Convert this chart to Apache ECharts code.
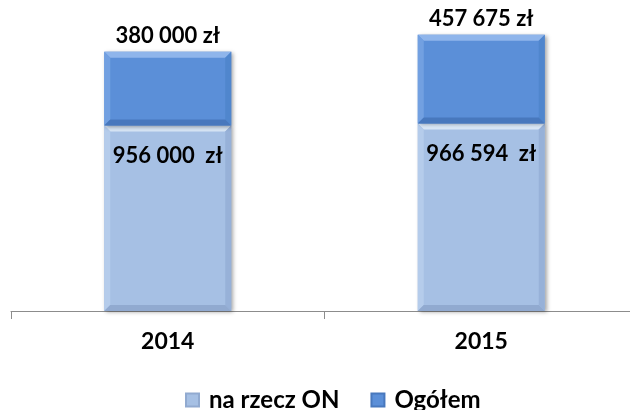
<!DOCTYPE html>
<html>
<head>
<meta charset="utf-8">
<script src="https://cdn.jsdelivr.net/npm/echarts@6/dist/echarts.min.js"></script>
<style>
  html, body { margin: 0; padding: 0; background: #fff; overflow: hidden; }
  #chart { width: 638px; height: 410px; }
</style>
</head>
<body>
<div id="chart"></div>
<script>
// Years on the category axis
const years = ['2014', '2015'];
// Amounts in złoty
const naRzeczON = [956000, 966594];
const ogolem = [380000, 457675];
const seriesNames = ['na rzecz ON', 'Ogółem'];

const FONT = 'Lato, "Open Sans", sans-serif';
const BAR_RATIO = 0.405;
const BEVEL = 6;

// Bevelled bar palettes: face, top edge, left edge, right edge, bottom edge
const paletteON = { face: '#a6c0e4', top: '#d8e6f6', left: '#b5cceb', right: '#97b1d8', bottom: '#91aad0' };
const paletteOg = { face: '#5b8fd8', top: '#8fb5eb', left: '#72a0e1', right: '#5086cd', bottom: '#4878bd' };

function fmt(v) {
  return String(Math.round(v)).replace(/\B(?=(\d{3})+(?!\d))/g, ' ');
}

// Build stacked segments: [categoryIndex, start, end, value]
function segments(values, base) {
  return values.map((v, i) => {
    const s = base ? base[i] : 0;
    return [i, s, s + v, v];
  });
}
const segON = segments(naRzeczON, null);
const segOg = segments(ogolem, naRzeczON);

function bevelBar(pal, labelMode, suffix) {
  return function (params, api) {
    const cat = api.value(0);
    const pLo = api.coord([cat, api.value(1)]);
    const pHi = api.coord([cat, api.value(2)]);
    const w = api.size([1, 0])[0] * BAR_RATIO;
    const x0 = pLo[0] - w / 2, x1 = pLo[0] + w / 2;
    const y0 = pHi[1], y1 = pLo[1];
    const b = BEVEL;
    const poly = (pts, fill) => ({ type: 'polygon', shape: { points: pts }, style: { fill: fill }, silent: true });
    const children = [
      {
        type: 'rect',
        shape: { x: x0, y: y0, width: w, height: y1 - y0 },
        style: { fill: pal.face, shadowColor: 'rgba(0,0,0,0.35)', shadowBlur: 4, shadowOffsetX: 2, shadowOffsetY: 1 }
      },
      poly([[x0, y0], [x1, y0], [x1 - b, y0 + b], [x0 + b, y0 + b]], pal.top),
      poly([[x0, y0], [x0 + b, y0 + b], [x0 + b, y1 - b], [x0, y1]], pal.left),
      poly([[x1, y0], [x1, y1], [x1 - b, y1 - b], [x1 - b, y0 + b]], pal.right),
      poly([[x0, y1], [x1, y1], [x1 - b, y1 - b], [x0 + b, y1 - b]], pal.bottom)
    ];
    const txt = fmt(api.value(3)) + suffix;
    const ty = labelMode === 'above' ? y0 - 5 : y0 + 30;
    children.push({
      type: 'text',
      style: {
        x: pLo[0], y: ty, text: txt,
        align: 'center', verticalAlign: labelMode === 'above' ? 'bottom' : 'middle',
        fontFamily: FONT, fontWeight: 'bold', fontSize: 22, fill: '#000'
      },
      silent: true
    });
    return { type: 'group', children: children };
  };
}

const chart = echarts.init(document.getElementById('chart'), null, { renderer: 'canvas' });

chart.setOption({
  animation: false,
  backgroundColor: '#ffffff',
  grid: { left: 11, top: 20, right: 0, bottom: 99, containLabel: false },
  legend: {
    top: 388,
    left: 185,
    padding: 0,
    itemWidth: 13,
    itemHeight: 13,
    itemGap: 31,
    icon: 'rect',
    textStyle: { fontFamily: FONT, fontWeight: 'bold', fontSize: 24, color: '#000', padding: [0, 0, 0, 5] },
    data: seriesNames
  },
  xAxis: {
    type: 'category',
    data: years,
    axisLine: { lineStyle: { color: '#8c8c8c', width: 1 } },
    axisTick: { show: true, length: 8, lineStyle: { color: '#8c8c8c' } },
    axisLabel: { fontFamily: FONT, fontWeight: 'bold', fontSize: 23, color: '#000', margin: 19 }
  },
  yAxis: {
    type: 'value',
    min: 0,
    max: 1500000,
    show: false,
    splitLine: { show: false }
  },
  series: [
    {
      name: seriesNames[0],
      type: 'custom',
      renderItem: bevelBar(paletteON, 'inside', '  zł'),
      encode: { x: 0, y: [1, 2] },
      itemStyle: { color: paletteON.face, borderColor: '#91aad0', borderWidth: 1 },
      data: segON
    },
    {
      name: seriesNames[1],
      type: 'custom',
      renderItem: bevelBar(paletteOg, 'above', ' zł'),
      encode: { x: 0, y: [1, 2] },
      itemStyle: { color: paletteOg.face, borderColor: '#4878bd', borderWidth: 1 },
      data: segOg
    }
  ]
});
</script>
</body>
</html>
